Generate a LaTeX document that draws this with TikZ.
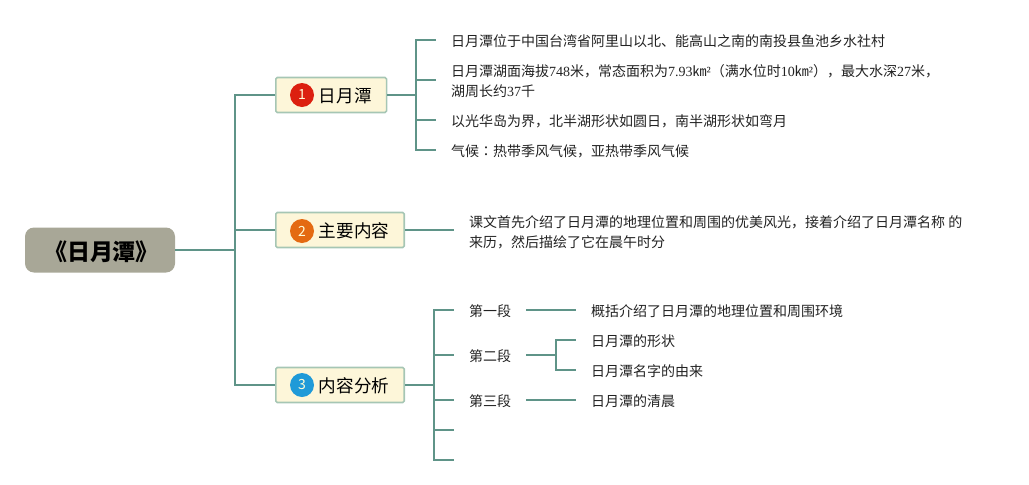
\documentclass[tikz,border=0pt]{standalone}
\usepackage{fontspec}
\setmainfont{Noto Sans CJK SC}
\newfontfamily\latfont{Liberation Serif}
\newfontfamily\twfont{Noto Sans CJK TC}
\tikzset{
  branch/.style={draw=branchcol,line width=2pt},
  rootbox/.style={fill=rootcol,rounded corners=9pt,minimum width=150pt,minimum height=45pt,inner sep=0pt,text height=24.2pt,text depth=2.8pt,text=black,font=\fontsize{23}{27}\selectfont\bfseries},
  topicbox/.style={draw=topicline,fill=topiccol,line width=1.6pt,rounded corners=1.5pt,minimum height=35pt,inner xsep=15pt,inner ysep=0pt,anchor=west,text height=17.5pt,text depth=2.1pt,text=black,font=\fontsize{17.6}{21}\selectfont},
  badge/.style={circle,minimum size=24pt,inner sep=0pt,text=white!85!yellow,font=\fontsize{14}{16}\selectfont},
  leaf/.style={inner xsep=15pt,inner ysep=0pt,anchor=west,align=left,text=textcol,font=\fontsize{14}{20}\selectfont},
  leafline/.style={leaf,text height=14.6pt,text depth=2pt},
}
\definecolor{branchcol}{HTML}{5F9488}
\definecolor{rootcol}{HTML}{A8A797}
\definecolor{topiccol}{HTML}{FDF6D9}
\definecolor{topicline}{HTML}{A6C6B4}
\definecolor{textcol}{HTML}{222222}
\definecolor{redcol}{HTML}{DC2010}
\definecolor{orangecol}{HTML}{E46A12}
\definecolor{bluecol}{HTML}{1F9AD8}
\begin{document}
\begin{tikzpicture}[x=1pt,y=-1pt]
\useasboundingbox (0,0) rectangle (1029,485);
\node[rootbox] (root) at (100,250) {\hspace{3pt}《日月潭》};
\coordinate (hubA) at (235,250);
\node[topicbox] (topicA) at (275,95) {\hspace{28pt}日月潭};
\node[topicbox] (topicB) at (275,230) {\hspace{28pt}主要内容};
\node[topicbox] (topicC) at (275,385) {\hspace{28pt}内容分析};
\node[badge,fill=redcol] (badgeA) at (302,95) {1};
\node[badge,fill=orangecol] (badgeB) at (302,231) {2};
\node[badge,fill=bluecol] (badgeC) at (302,385) {3};
\draw[branch] (root) -- (hubA);
\draw[branch] (hubA) |- (topicA);
\draw[branch] (hubA) |- (topicB);
\draw[branch] (hubA) |- (topicC);
% first topic
\coordinate (hubB) at (416,95);
\node[leafline] (factA) at (436,40) {日月潭位于中国台湾省阿里山以北、能高山之南的南投县鱼池乡水社村};
\node[leaf] (factB) at (436,80) {\rule{0pt}{14.6pt}日月潭湖面海拔{\latfont 748}米，常态面积为{\latfont 7.93}㎞{\latfont ²}（满水位时{\latfont 10}㎞{\latfont ²}），最大水深{\latfont 27}米，\\湖周长约{\latfont 37}千};
\node[leafline] (factC) at (436,120) {以光华岛为界，北半湖形状如圆日，南半湖形状如弯月};
\node[leafline] (factD) at (436,150) {气候{\twfont ：}热带季风气候，亚热带季风气候};
\draw[branch] (topicA) -- (hubB);
\draw[branch] (hubB) |- (factA);
\draw[branch] (hubB) |- (factB);
\draw[branch] (hubB) |- (factC);
\draw[branch] (hubB) |- (factD);
% second topic
\node[leaf] (summary) at (454,230) {\rule{0pt}{16.6pt}课文首先介绍了日月潭的地理位置和周围的优美风光，接着介绍了日月潭名称 的\\来历，然后描绘了它在晨午时分};
\draw[branch] (topicB) -- (summary);
% third topic
\coordinate (hubC) at (434,385);
\node[leafline] (partA) at (454,310) {第一段};
\node[leafline] (partB) at (454,355) {第二段};
\node[leafline] (partC) at (454,400) {第三段};
\coordinate (stubA) at (454,430);
\coordinate (stubB) at (454,460);
\draw[branch] (topicC) -- (hubC);
\draw[branch] (hubC) |- (partA);
\draw[branch] (hubC) |- (partB);
\draw[branch] (hubC) |- (partC);
\draw[branch] (hubC) |- (stubA);
\draw[branch] (hubC) |- (stubB);
\coordinate (hubD) at (556,355);
\node[leafline] (noteA) at (576,310) {概括介绍了日月潭的地理位置和周围环境};
\node[leafline] (noteB) at (576,340) {日月潭的形状};
\node[leafline] (noteC) at (576,370) {日月潭名字的由来};
\node[leafline] (noteD) at (576,400) {日月潭的清晨};
\draw[branch] (partA) -- (noteA);
\draw[branch] (partB) -- (hubD);
\draw[branch] (hubD) |- (noteB);
\draw[branch] (hubD) |- (noteC);
\draw[branch] (partC) -- (noteD);
\end{tikzpicture}
\end{document}
